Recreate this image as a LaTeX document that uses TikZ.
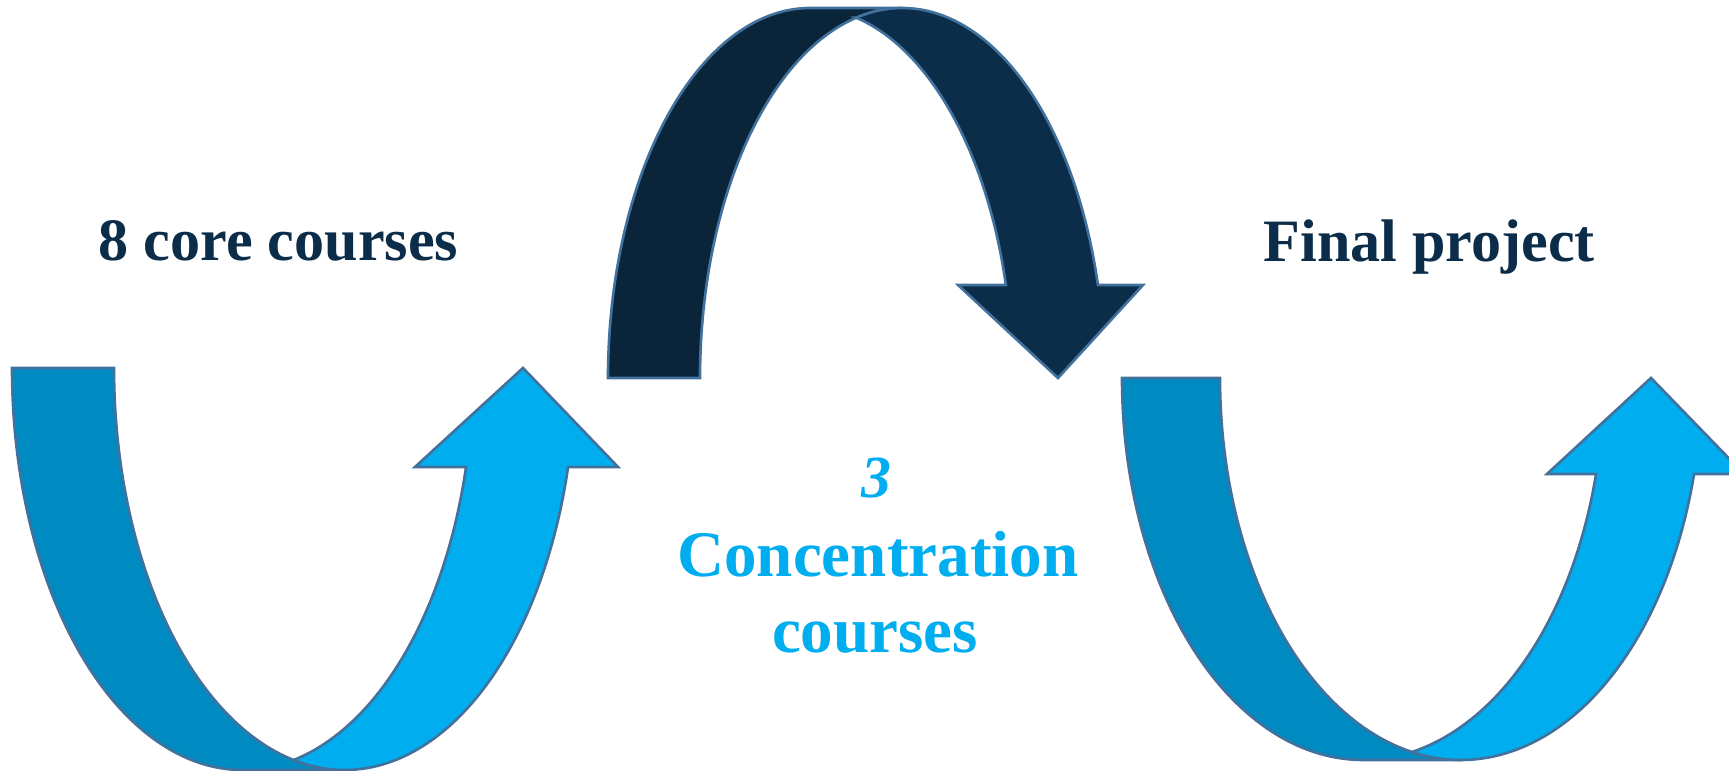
\documentclass[tikz,border=0pt]{standalone}
\usepackage{fontspec}
\setmainfont{Liberation Serif}
\definecolor{navydark}{HTML}{0A243A}
\definecolor{navylight}{HTML}{0B2D4A}
\definecolor{bluedark}{HTML}{008AC2}
\definecolor{bluelight}{HTML}{00AEEF}
\definecolor{edgeblue}{HTML}{41719C}
\definecolor{textnavy}{HTML}{0B2D4A}
\tikzset{
  band/.style={draw=edgeblue, line width=0.75pt, line join=miter},
  bigtext/.style={inner sep=0pt, font=\bfseries},
}
\begin{document}
\begin{tikzpicture}[x=0.01cm, y=-0.01cm]
\useasboundingbox (0,0) rectangle (1729,771);
\clip (0,0) rectangle (1729,771);

% ---- lower left arrow (up) ----
\path[band, fill=bluedark]
  plot[domain=180:90, samples=80, variable=\t] ({242.6+230.6*cos(\t)},{368+402*sin(\t)})
  -- plot[domain=90:180, samples=80, variable=\t] ({344.6+230.6*cos(\t)},{368+402*sin(\t)})
  -- cycle;
\path[band, fill=bluelight]
  plot[domain=14.256:77.22, samples=60, variable=\t] ({242.6+230.6*cos(\t)},{368+402*sin(\t)})
  -- plot[domain=102.78:14.256, samples=80, variable=\t] ({344.6+230.6*cos(\t)},{368+402*sin(\t)})
  -- (618,467) -- (523,368) -- (415,467) -- cycle;

% ---- top arrow (down) ----
\path[band, fill=navydark]
  plot[domain=180:90, samples=80, variable=\t] ({810.2+202.2*cos(\t)},{378-370*sin(\t)})
  -- plot[domain=90:180, samples=80, variable=\t] ({902.2+202.2*cos(\t)},{378-370*sin(\t)})
  -- cycle;
\path[band, fill=navylight]
  plot[domain=14.558:76.85, samples=60, variable=\t] ({810.2+202.2*cos(\t)},{378-370*sin(\t)})
  -- plot[domain=103.15:14.558, samples=80, variable=\t] ({902.2+202.2*cos(\t)},{378-370*sin(\t)})
  -- (1143,285) -- (1058,378) -- (958,285) -- cycle;

% ---- lower right arrow (up) ----
\path[band, fill=bluedark]
  plot[domain=180:90, samples=80, variable=\t] ({1362.9+240.9*cos(\t)},{378+382*sin(\t)})
  -- plot[domain=90:180, samples=80, variable=\t] ({1460.9+240.9*cos(\t)},{378+382*sin(\t)})
  -- cycle;
\path[band, fill=bluelight]
  plot[domain=14.556:78.26, samples=60, variable=\t] ({1362.9+240.9*cos(\t)},{378+382*sin(\t)})
  -- plot[domain=101.74:14.556, samples=80, variable=\t] ({1460.9+240.9*cos(\t)},{378+382*sin(\t)})
  -- (1744,474) -- (1651,378) -- (1547,474) -- cycle;

% ---- texts ----
\node[bigtext, text=textnavy, anchor=base west] (core) at (98,261)
  {\fontsize{17.1pt}{20pt}\selectfont 8 core courses};
\node[bigtext, text=textnavy, anchor=base west] (final) at (1263,262)
  {\fontsize{17.1pt}{20pt}\selectfont Final project};
\node[bigtext, text=bluelight, anchor=base] (three) at (876,498)
  {\fontsize{17pt}{20pt}\selectfont\itshape 3};
\node[bigtext, text=bluelight, anchor=base] (conc) at (878,577)
  {\fontsize{18.5pt}{22pt}\selectfont Concentration};
\node[bigtext, text=bluelight, anchor=base] (courses) at (875,653)
  {\fontsize{18.5pt}{22pt}\selectfont courses};
\end{tikzpicture}
\end{document}
